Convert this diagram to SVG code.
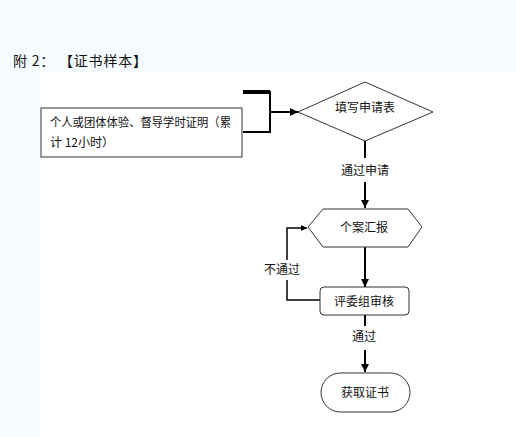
<svg xmlns="http://www.w3.org/2000/svg" width="516" height="437" viewBox="0 0 516 437">
<defs>
<marker id="ah" viewBox="0 0 10 10" refX="10" refY="5" markerWidth="4" markerHeight="4" orient="auto" markerUnits="strokeWidth"><path d="M0,0 L10,5 L0,10 z" fill="#000"/></marker>
</defs>
<style>
text{font-family:"Noto Sans CJK SC","Noto Sans CJK JP",sans-serif;fill:#111;font-size:12px}
.t{text-anchor:middle}
.shape{fill:#fff;stroke:#333;stroke-width:1}
.c{fill:none;stroke:#000;stroke-width:2}
</style>
<rect width="516" height="437" fill="#f5fbff"/>
<rect x="40" y="72" width="476" height="365" fill="#fff"/>
<text x="13" y="66" style="font-size:14px" textLength="134" lengthAdjust="spacing">附 2：  【证书样本】</text>
<g id="connectors">
<path class="c" d="M243,92 H270 V132 H243"/>
<path d="M243,92 H270" stroke="#000" stroke-width="4" fill="none"/>
<path class="c" d="M270,112 H298" marker-end="url(#ah)"/>
<path class="c" d="M365,141 V158"/>
<path class="c" d="M365,182 V208" marker-end="url(#ah)"/>
<path class="c" d="M365,247 V287" marker-end="url(#ah)"/>
<path class="c" d="M320,300 H287 V280" style="stroke-width:1.5"/>
<path class="c" d="M287,260 V228 H307" style="stroke-width:1.5" marker-end="url(#ah)"/>
<path class="c" d="M365,315 V326"/>
<path class="c" d="M365,350 V372" marker-end="url(#ah)"/>
<text class="t" x="365" y="175">通过申请</text>
<text class="t" x="282" y="274">不通过</text>
<text class="t" x="364" y="341">通过</text>
</g>
<g id="n-proof">
<rect class="shape" x="41" y="108" width="201" height="49"/>
<text x="50" y="127" textLength="181" lengthAdjust="spacingAndGlyphs">个人或团体体验、督导学时证明（累</text>
<text x="50" y="147">计 12小时）</text>
</g>
<g id="n-apply">
<polygon class="shape" points="298,112 365,82 433,112 365,141"/>
<text class="t" x="365" y="112">填写申请表</text>
</g>
<g id="n-report">
<polygon class="shape" points="308,227 323,209 408,209 422,227 408,247 323,247"/>
<text class="t" x="364" y="232">个案汇报</text>
</g>
<g id="n-review">
<rect class="shape" x="320" y="287" width="89" height="28" rx="4"/>
<text class="t" x="364" y="306">评委组审核</text>
</g>
<g id="n-cert">
<rect class="shape" x="321" y="373" width="89" height="39" rx="19.5"/>
<text class="t" x="365" y="397">获取证书</text>
</g>
</svg>
